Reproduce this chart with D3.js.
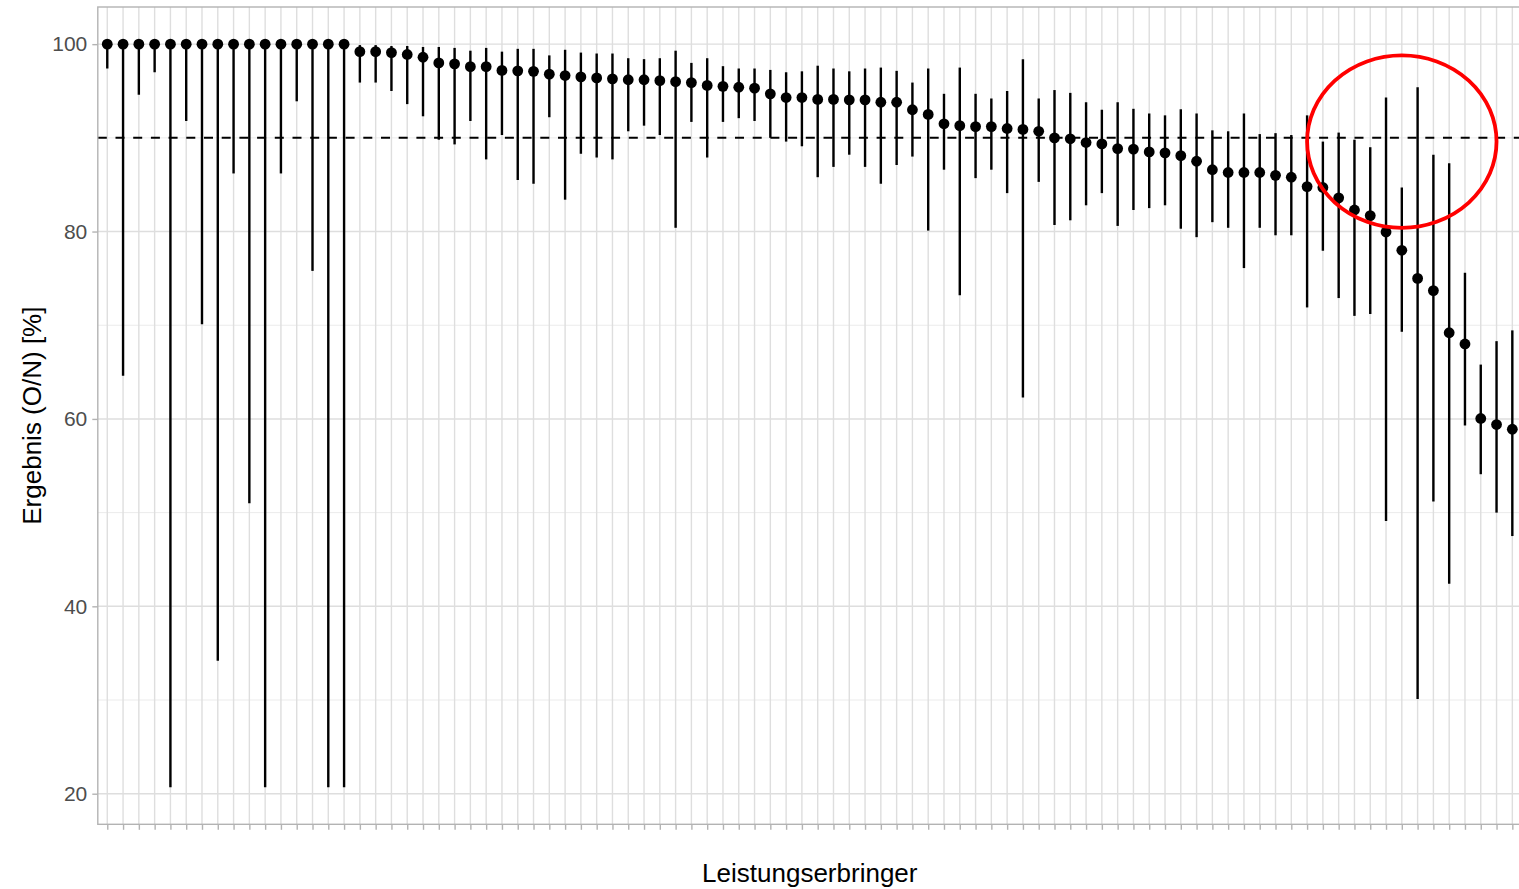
<!DOCTYPE html>
<html>
<head>
<meta charset="utf-8">
<script src="https://cdn.jsdelivr.net/npm/d3@7"></script>
<style>
  body { margin: 0; background: #fff; }
  svg { display: block; font-family: "Liberation Sans", Arial, sans-serif; }
</style>
</head>
<body>
<svg id="chart" width="1519" height="889"></svg>
<script>
// one entry per Leistungserbringer, sorted by result
const provider = d3.range(1, 91).map(i => 'LE' + String(i).padStart(2, '0'));

const result = [
  100, 100, 100, 100, 100, 100, 100, 100, 100, 100,
  100, 100, 100, 100, 100, 100, 99.2, 99.2, 99.1, 98.9,
  98.6, 98.0, 97.9, 97.6, 97.6, 97.2, 97.15, 97.1, 96.8, 96.65,
  96.5, 96.4, 96.3, 96.2, 96.2, 96.1, 96.0, 95.9, 95.6, 95.5,
  95.4, 95.3, 94.7, 94.3, 94.3, 94.1, 94.1, 94.05, 94.05, 93.8,
  93.8, 93.0, 92.5, 91.5, 91.3, 91.2, 91.2, 91.0, 90.9, 90.7,
  90.0, 89.9, 89.5, 89.35, 88.85, 88.8, 88.5, 88.4, 88.1, 87.5,
  86.6, 86.3, 86.3, 86.3, 86.0, 85.8, 84.8, 84.7, 83.6, 82.3,
  81.7, 79.95, 78.0, 75.0, 73.7, 69.2, 68.0, 60.05, 59.4, 58.9
];

const lower = [
  97.4, 64.6, 94.6, 97.0, 20.7, 91.8, 70.1, 34.2, 86.2, 51.0,
  20.7, 86.2, 93.9, 75.8, 20.7, 20.7, 95.9, 95.9, 95.0, 93.6,
  92.3, 89.8, 89.3, 91.8, 87.7, 90.3, 85.5, 85.1, 92.2, 83.4,
  88.3, 87.9, 87.7, 90.7, 91.3, 90.3, 80.4, 91.7, 87.9, 91.7,
  92.1, 91.8, 90.0, 89.6, 89.1, 85.8, 86.9, 88.2, 86.9, 85.1,
  87.1, 88.0, 80.1, 86.6, 73.2, 85.7, 86.6, 84.1, 62.3, 85.3,
  80.7, 81.2, 82.8, 84.1, 80.6, 82.3, 82.5, 82.8, 80.3, 79.4,
  81.0, 80.4, 76.1, 80.4, 79.6, 79.6, 71.9, 77.95, 72.9, 71.0,
  71.2, 49.1, 69.3, 30.1, 51.2, 42.4, 59.3, 54.1, 50.0, 47.5
];

const upper = [
  100, 100, 100, 100, 100, 100, 100, 100, 100, 100,
  100, 100, 100, 100, 100, 100, 99.9, 99.9, 99.8, 99.8,
  99.7, 99.7, 99.6, 99.3, 99.6, 99.2, 99.5, 99.5, 98.8, 99.4,
  99.1, 99.0, 99.0, 98.5, 98.4, 98.5, 99.3, 98.0, 98.5, 97.65,
  97.4, 97.4, 97.25, 97.0, 97.1, 97.7, 97.4, 97.1, 97.4, 97.5,
  97.15, 95.9, 97.4, 94.7, 97.5, 94.7, 94.2, 95.0, 98.4, 94.2,
  95.1, 94.8, 93.8, 93.0, 93.8, 93.1, 92.6, 92.4, 93.05, 92.6,
  90.8, 90.7, 92.6, 90.4, 90.5, 90.3, 92.4, 89.6, 90.56, 89.8,
  89.0, 94.3, 84.7, 95.4, 88.2, 87.3, 75.6, 65.8, 68.3, 69.45
];

const target = 90;
const yMajor = [20, 40, 60, 80, 100];
const yMinor = [30, 50, 70, 90];

// the red ring drawn around the providers just below the target
const highlight = { from: 'LE77', to: 'LE89', low: 80.4, high: 98.8 };

const data = provider.map((p, i) => ({ p, v: result[i], lo: lower[i], hi: upper[i] }));

const svg = d3.select('#chart');
const panel = { left: 97.8, right: 1521.8, top: 7, bottom: 824.3 };

const x = d3.scalePoint()
  .domain(provider)
  .range([panel.left, panel.right])
  .padding(0.6);

const lo = d3.min(lower), hi = d3.max(upper);
const pad = (hi - lo) * 0.05;
const y = d3.scaleLinear()
  .domain([lo - pad, hi + pad])
  .range([panel.bottom, panel.top]);

// grid
const grid = svg.append('g');
grid.selectAll('.minor')
  .data(yMinor)
  .enter().append('line')
  .attr('x1', panel.left).attr('x2', panel.right)
  .attr('y1', d => y(d)).attr('y2', d => y(d))
  .style('stroke', '#ebebeb').style('stroke-width', 1);
grid.selectAll('.major')
  .data(yMajor)
  .enter().append('line')
  .attr('x1', panel.left).attr('x2', panel.right)
  .attr('y1', d => y(d)).attr('y2', d => y(d))
  .style('stroke', '#dedede').style('stroke-width', 1.4);
grid.selectAll('.vert')
  .data(provider)
  .enter().append('line')
  .attr('x1', d => x(d)).attr('x2', d => x(d))
  .attr('y1', panel.top).attr('y2', panel.bottom)
  .style('stroke', '#dedede').style('stroke-width', 1.4);

// target line
svg.append('line')
  .attr('x1', panel.left).attr('x2', panel.right)
  .attr('y1', y(target)).attr('y2', y(target))
  .style('stroke', '#000').style('stroke-width', 2)
  .style('stroke-dasharray', '9,8.7');

// intervals + points
const marks = svg.append('g');
marks.selectAll('line')
  .data(data)
  .enter().append('line')
  .attr('x1', d => x(d.p)).attr('x2', d => x(d.p))
  .attr('y1', d => y(d.lo)).attr('y2', d => y(d.hi))
  .style('stroke', '#000').style('stroke-width', 2.4);
marks.selectAll('circle')
  .data(data)
  .enter().append('circle')
  .attr('cx', d => x(d.p)).attr('cy', d => y(d.v))
  .attr('r', 5.4)
  .style('fill', '#000');

// panel border
svg.append('rect')
  .attr('x', panel.left).attr('y', panel.top)
  .attr('width', panel.right - panel.left).attr('height', panel.bottom - panel.top)
  .style('fill', 'none').style('stroke', '#b3b3b3').style('stroke-width', 1.4);

// axes
const yAxis = svg.append('g')
  .attr('transform', `translate(${panel.left},0)`)
  .call(d3.axisLeft(y).tickValues(yMajor).tickSize(5.5).tickPadding(5));
const xAxis = svg.append('g')
  .attr('transform', `translate(0,${panel.bottom})`)
  .call(d3.axisBottom(x).tickSize(5.5).tickFormat(''));
[yAxis, xAxis].forEach(a => {
  a.select('.domain').remove();
  a.selectAll('.tick line').style('stroke', '#b3b3b3').style('stroke-width', 1.4);
});
yAxis.selectAll('.tick text')
  .style('fill', '#4d4d4d')
  .style('font-size', '21px')
  .style('font-family', '"Liberation Sans", Arial, sans-serif');

// highlight ring
const cx = (x(highlight.from) + x(highlight.to)) / 2;
const cy = (y(highlight.low) + y(highlight.high)) / 2;
svg.append('ellipse')
  .attr('cx', cx).attr('cy', cy)
  .attr('rx', (x(highlight.to) - x(highlight.from)) / 2)
  .attr('ry', (y(highlight.low) - y(highlight.high)) / 2)
  .style('fill', 'none').style('stroke', '#ff0000').style('stroke-width', 3.8);

// titles
svg.append('text')
  .attr('x', (panel.left + panel.right) / 2)
  .attr('y', 882)
  .attr('text-anchor', 'middle')
  .style('font-size', '26px')
  .text('Leistungserbringer');
svg.append('text')
  .attr('transform', `translate(41,${(panel.top + panel.bottom) / 2}) rotate(-90)`)
  .attr('text-anchor', 'middle')
  .style('font-size', '26px')
  .text('Ergebnis (O/N) [%]');
</script>
</body>
</html>
